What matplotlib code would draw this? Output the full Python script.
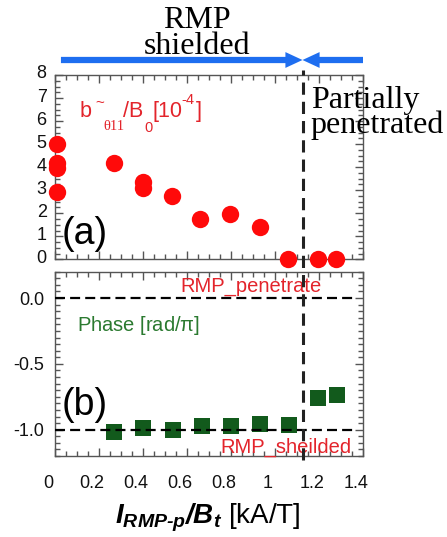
import matplotlib
matplotlib.use("Agg")
import matplotlib.pyplot as plt
from matplotlib.ticker import MultipleLocator
from matplotlib.transforms import blended_transform_factory, ScaledTranslation
from matplotlib.lines import Line2D

plt.rcParams['font.family'] = ['Liberation Sans', 'DejaVu Sans']
plt.rcParams['mathtext.fontset'] = 'custom'
plt.rcParams['mathtext.rm'] = 'Liberation Sans'
plt.rcParams['mathtext.it'] = 'Liberation Sans:italic'
plt.rcParams['mathtext.bf'] = 'Liberation Sans:bold'
plt.rcParams['mathtext.bfit'] = 'Liberation Sans:italic:bold'

# ---- data ----
amp_x = [0.01, 0.01, 0.01, 0.01, 0.27, 0.40, 0.40, 0.53, 0.66, 0.795, 0.93, 1.06, 1.195, 1.277]
amp_y = [5.0, 4.2, 3.95, 2.9, 4.2, 3.35, 3.1, 2.75, 1.75, 1.95, 1.4, 0.0, 0.0, 0.0]
phase_x = [0.27, 0.40, 0.535, 0.668, 0.80, 0.93, 1.065, 1.197, 1.28]
phase_y = [-1.02, -0.99, -1.0, -0.97, -0.97, -0.96, -0.965, -0.76, -0.74]
threshold_x = 1.125
ref_levels = [0.0, -1.0]
x_ticks = [0, 0.2, 0.4, 0.6, 0.8, 1.0, 1.2, 1.4]
x_ticklabels = ['0', '0.2', '0.4', '0.6', '0.8', '1', '1.2', '1.4']
amp_ticks = [0, 1, 2, 3, 4, 5, 6, 7, 8]
phase_ticks = [0.0, -0.5, -1.0]
phase_ticklabels = ['0.0', '-0.5', '-1.0']

RED = '#ff0a0a'
RED_TXT = '#e3242b'
GREEN = '#125a1c'
GREEN_TXT = '#2b7a30'
BLUE = '#1e6ef0'
FRAME = '#555555'

W, H = 447, 537
fig = plt.figure(figsize=(W / 100, H / 100), dpi=100)

def fx(px):
    return px / W

def fy(py):
    return 1 - py / H

L, R = 55, 363
ax1 = fig.add_axes([fx(L), fy(259.3), fx(R - L), fy(75) - fy(259.3)])
ax2 = fig.add_axes([fx(L), fy(456), fx(R - L), fy(271.7) - fy(456)])

for ax in (ax1, ax2):
    ax.set_xlim(0, 1.4)
    for s in ax.spines.values():
        s.set_color(FRAME)
        s.set_linewidth(1.0)
    ax.tick_params(which='both', direction='in', top=True, right=True, color=FRAME,
                   labelsize=13, labelcolor='#111111')
    ax.tick_params(which='major', length=6, width=1.0)
    ax.tick_params(which='minor', length=3.5, width=1.0)
    ax.xaxis.set_major_locator(MultipleLocator(0.2))
    ax.xaxis.set_minor_locator(MultipleLocator(0.05))

# ---- top panel ----
ax1.set_ylim(0, 8)
ax1.set_yticks(amp_ticks)
ax1.yaxis.set_minor_locator(MultipleLocator(0.25))
ax1.tick_params(axis='x', labelbottom=False)
ax1.tick_params(axis='y', pad=6)
ax1.plot(amp_x, amp_y, 'o', color=RED, markersize=12.5, markeredgewidth=0,
         clip_on=False, zorder=3)
for lab in ax1.get_yticklabels():
    lab.set_transform(lab.get_transform() + ScaledTranslation(0, 3 / 100, fig.dpi_scale_trans))

# amplitude label built from pieces: b~_θ11 / B_0 [10^-4]
serif = ['Liberation Serif', 'DejaVu Serif']
label_pieces = [
    ('b', 79.5, 117.3, 15.5, None),
    ('~', 95.0, 107.5, 11, None),
    ('θ11', 103.0, 130.0, 10.5, serif),
    ('/B', 123.0, 117.3, 15.5, None),
    ('0', 144.5, 131.5, 10.5, None),
    ('[10', 152.0, 117.3, 15.5, None),
    ('-4', 181.5, 104.5, 10.5, None),
    (']', 196.0, 117.3, 15.5, None),
]
for txt, px, py, fs, fam in label_pieces:
    kw = dict(color=RED_TXT, fontsize=fs, ha='left', va='baseline')
    if fam:
        kw['family'] = fam
    fig.text(fx(px), fy(py), txt, **kw)

ax1.text(0.022, 0.083, '(a)', transform=ax1.transAxes, fontsize=27, va='baseline', ha='left')

# ---- bottom panel ----
ax2.set_ylim(-1.2, 0.2)
ax2.set_yticks(phase_ticks)
ax2.set_yticklabels(phase_ticklabels)
ax2.yaxis.set_minor_locator(MultipleLocator(0.05))
ax2.set_xticks(x_ticks)
ax2.set_xticklabels(x_ticklabels)
ax2.tick_params(axis='x', pad=14)
ax2.tick_params(axis='y', pad=8)
for lab in ax2.get_xticklabels():
    lab.set_transform(lab.get_transform() + ScaledTranslation(-7 / 100, 0, fig.dpi_scale_trans))

for lv in ref_levels:
    ax2.plot([0, 1.355], [lv, lv], color='black', lw=1.6, linestyle=(0, (4.5, 2.3)), zorder=4)
ax2.plot(phase_x, phase_y, 's', color=GREEN, markersize=11.5, markeredgewidth=0,
         clip_on=False, zorder=3)

ax2.text(0.07, 0.68, r'Phase [rad/$\mathregular{\pi}$]', transform=ax2.transAxes,
         color=GREEN_TXT, fontsize=14.5, va='baseline', ha='left')
ax2.text(0.89, 0.05, 'RMP_penetrate', color=RED_TXT, fontsize=14.5, ha='center', va='baseline')
ax2.text(1.05, -1.176, 'RMP_sheilded', color=RED_TXT, fontsize=14.5, ha='center', va='baseline',
         clip_on=False)
ax2.text(0.022, 0.222, '(b)', transform=ax2.transAxes, fontsize=27, va='baseline', ha='left')

# ---- threshold dashed line across both panels ----
trans = blended_transform_factory(ax1.transData, fig.transFigure)
fig.add_artist(Line2D([threshold_x, threshold_x], [fy(460), fy(70)], transform=trans,
                      color='#222222', lw=2.2, linestyle=(0, (4.0, 2.3)), zorder=5))

# ---- arrows on top ----
ay = fy(60)
arrow_kw = dict(arrowstyle='simple,head_length=0.41,head_width=0.38,tail_width=0.15',
                color=BLUE, lw=0, shrinkA=0, shrinkB=0, mutation_scale=30)
ax1.annotate('', xy=(threshold_x, ay), xytext=(0.027, ay), xycoords=trans, textcoords=trans,
             arrowprops=arrow_kw, annotation_clip=False)
ax1.annotate('', xy=(threshold_x, ay), xytext=(1.4, ay), xycoords=trans, textcoords=trans,
             arrowprops=arrow_kw, annotation_clip=False)

fig.text(fx(197), fy(27.5), 'RMP', family=serif, fontsize=23, ha='center', va='baseline')
fig.text(fx(197), fy(54), 'shielded', family=serif, fontsize=23, ha='center', va='baseline')
fig.text(fx(310.7), fy(108), 'Partially', family=serif, fontsize=23, ha='left', va='baseline')
fig.text(fx(310.7), fy(133), 'penetrated', family=serif, fontsize=23, ha='left', va='baseline')

# ---- x label ----
xlabel = r'$\mathbfit{I}_{\mathbfit{RMP' + '\u2010' + r'p}}\mathbfit{/B}_{\mathbfit{t}}$ [kA/T]'
fig.text(fx(207.5), fy(523), xlabel, fontsize=20, ha='center', va='baseline')

fig.savefig('out.png', dpi=100)
